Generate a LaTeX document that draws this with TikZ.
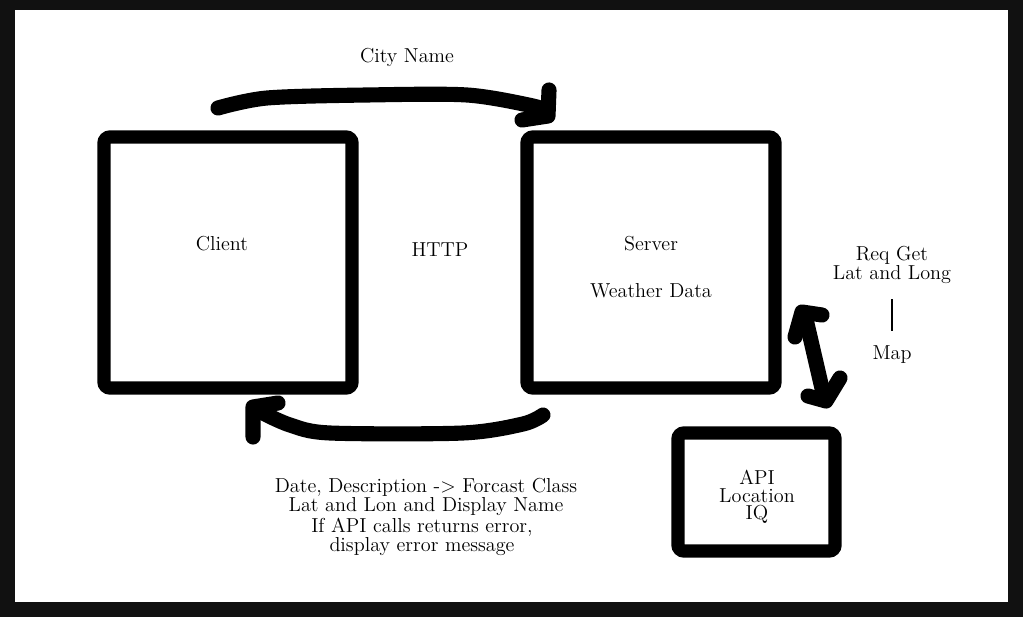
\documentclass[tikz,border=0pt]{standalone}
\usepackage{xcolor}
\usetikzlibrary{positioning}
\definecolor{framegray}{HTML}{111111}
\tikzset{%
	box/.style    = {draw, rectangle, rounded corners=1.2mm, line width=7.6pt, minimum width=4.96cm, minimum height=5.02cm}, % big box
	smallbox/.style = {box, minimum width=3.14cm, minimum height=2.36cm},
	stroke/.style = {line width=8.6pt, line cap=round, line join=round}, % marker stroke
	txt/.style    = {font=\fontsize{11.5}{10}\selectfont, align=center, inner sep=0pt},
}

\begin{document}
\begin{tikzpicture}[x=0.02cm,y=-0.02cm]
	\fill[framegray] (0,0) rectangle (1023,617);
	\fill[white] (15,10) rectangle (1008,602);
	\useasboundingbox (0,0) rectangle (1023,617);

	\node [box] (client) at (228,262.5) {};
	\node [box] (server) at (651,262.5) {};
	\node [smallbox] (api) at (756.5,492) {};

	\node [txt] (clienttxt) at (222,244) {Client};
	\node [txt] (http) at (440,250) {HTTP};
	\node [txt] (servertxt) at (651,244) {Server};
	\node [txt] (weather) [below=0.62cm of servertxt] {Weather Data};
	\node [txt] (apitxt) at (757,497) {API\\Location\\IQ};
	\node [txt] (city) at (407,57) {City Name};
	\node [txt] (reqget) at (892,265) {Req Get\\Lat and Long};
	\node [txt] (map) at (892,355) {Map};
	\node [txt] (reply) at (426,497) {Date, Description -\textgreater{} Forcast Class\\Lat and Lon and Display Name};
	\node [txt] (errmsg) at (422,537) {If API calls returns error,\\display error message};

	% request arrow
	\coordinate (reqa) at (218,108);
	\coordinate (reqb) at (549,90);
	\draw[stroke] plot[smooth] coordinates {(reqa) (267,98) (367,95) (467,95) (533,106) (547,112)};
	\draw[stroke] (reqb) -- (548,116) -- (522,120);

	% response arrow
	\coordinate (resa) at (543,415);
	\coordinate (resb) at (253,437);
	\draw[stroke] plot[smooth] coordinates {(resa) (523,424) (463,433) (330,433) (290,425) (263,413)};
	\draw[stroke] (resb) -- (253,407) -- (278,403);

	% server <-> api
	\coordinate (upa) at (805,315);
	\coordinate (upb) at (824,397);
	\draw[stroke] (upa) -- (upb);
	\draw[stroke] (795,337) -- (802,312) -- (822,315);
	\draw[stroke] (808,396) -- (826,401) -- (840,378);

	\draw[line width=0.6pt, shorten <=0.3cm, shorten >=0.3cm] (reqget.south) -- (map.north);
\end{tikzpicture}
\end{document}
